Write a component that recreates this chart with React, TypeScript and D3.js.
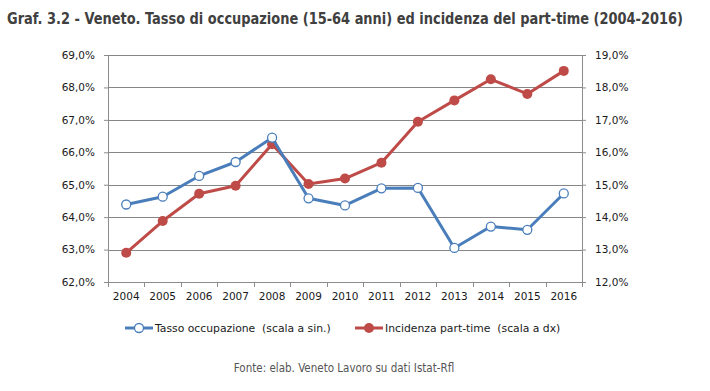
import React, { useRef, useEffect } from 'react';
import * as d3 from 'd3';

const years = ['2004', '2005', '2006', '2007', '2008', '2009', '2010', '2011', '2012', '2013', '2014', '2015', '2016'];
const tassoOccupazione = [64.39, 64.63, 65.27, 65.7, 66.45, 64.58, 64.36, 64.89, 64.9, 63.05, 63.71, 63.61, 64.73];
const incidenzaPartTime = [12.9, 13.88, 14.72, 14.97, 16.25, 15.02, 15.19, 15.68, 16.94, 17.6, 18.25, 17.8, 18.51];
const leftTicks = [62, 63, 64, 65, 66, 67, 68, 69];
const rightTicks = [12, 13, 14, 15, 16, 17, 18, 19];

const BLUE = '#4a7ebb';
const RED = '#be4b48';

const App = () => {
  const svgRef = useRef<SVGSVGElement>(null);

  useEffect(() => {
    const svg = d3.select(svgRef.current);
    svg.selectAll('*').remove();

    const margin = { top: 55, right: 128, bottom: 109, left: 108 };
    const width = 710;
    const height = 391;
    const innerWidth = width - margin.left - margin.right;
    const innerHeight = height - margin.top - margin.bottom;

    const fmt = (v: number) => v.toFixed(1).replace('.', ',') + '%';

    // title
    svg.append('text')
      .attr('x', 7)
      .attr('y', 24)
      .attr('font-family', '"DejaVu Sans Condensed", "DejaVu Sans", sans-serif')
      .attr('font-weight', 'bold')
      .attr('font-size', 15)
      .attr('fill', '#404040')
      .attr('textLength', 676)
      .attr('lengthAdjust', 'spacingAndGlyphs')
      .text('Graf. 3.2 - Veneto. Tasso di occupazione (15-64 anni) ed incidenza del part-time (2004-2016)');

    const x = d3.scaleBand().domain(years).range([0, innerWidth]);
    const yLeft = d3.scaleLinear().domain([62, 69]).range([innerHeight, 0]);
    const yRight = d3.scaleLinear().domain([12, 19]).range([innerHeight, 0]);

    const g = svg.append('g').attr('transform', `translate(${margin.left},${margin.top})`);

    // gridlines
    g.append('g')
      .selectAll('line')
      .data(leftTicks.slice(1))
      .join('line')
      .attr('x1', 0)
      .attr('x2', innerWidth)
      .attr('y1', d => Math.round(yLeft(d)) + 0.5)
      .attr('y2', d => Math.round(yLeft(d)) + 0.5)
      .attr('stroke', '#868686')
      .attr('stroke-width', 1);

    const fontAxis = '"DejaVu Sans", Verdana, sans-serif';

    // left axis
    const left = g.append('g')
      .call(d3.axisLeft(yLeft).tickValues(leftTicks).tickFormat(d => fmt(+d)).tickSize(4).tickPadding(9));
    // bottom axis
    const bottom = g.append('g')
      .attr('transform', `translate(0,${innerHeight})`)
      .call(d3.axisBottom(x).tickSize(0).tickPadding(11));
    bottom.append('g')
      .selectAll('line')
      .data(d3.range(years.length + 1))
      .join('line')
      .attr('x1', i => Math.round(i * x.bandwidth()) + 0.5)
      .attr('x2', i => Math.round(i * x.bandwidth()) + 0.5)
      .attr('y1', 0)
      .attr('y2', 5)
      .attr('stroke', '#8c8c8c');
    // right axis
    const right = g.append('g')
      .attr('transform', `translate(${innerWidth},0)`)
      .call(d3.axisRight(yRight).tickValues(rightTicks).tickFormat(d => fmt(+d)).tickSize(4).tickPadding(9));

    [left, bottom, right].forEach(a => {
      a.selectAll('path').attr('stroke', '#8c8c8c');
      a.selectAll('.tick line').attr('stroke', '#8c8c8c');
      a.selectAll('text')
        .attr('font-family', fontAxis)
        .attr('font-size', 10.5)
        .attr('fill', '#1a1a1a');
    });

    const cx = (i: number) => (x(years[i]) ?? 0) + x.bandwidth() / 2;

    // red series
    const redLine = d3.line<number>().x((_, i) => cx(i)).y(d => yRight(d));
    g.append('path')
      .datum(incidenzaPartTime)
      .attr('d', redLine)
      .attr('fill', 'none')
      .attr('stroke', RED)
      .attr('stroke-width', 3)
      .attr('stroke-linejoin', 'round');
    g.append('g')
      .selectAll('circle')
      .data(incidenzaPartTime)
      .join('circle')
      .attr('cx', (_, i) => cx(i))
      .attr('cy', d => yRight(d))
      .attr('r', 5)
      .attr('fill', RED);

    // blue series
    const blueLine = d3.line<number>().x((_, i) => cx(i)).y(d => yLeft(d));
    g.append('path')
      .datum(tassoOccupazione)
      .attr('d', blueLine)
      .attr('fill', 'none')
      .attr('stroke', BLUE)
      .attr('stroke-width', 3)
      .attr('stroke-linejoin', 'round');
    g.append('g')
      .selectAll('circle')
      .data(tassoOccupazione)
      .join('circle')
      .attr('cx', (_, i) => cx(i))
      .attr('cy', d => yLeft(d))
      .attr('r', 4.5)
      .attr('fill', '#fff')
      .attr('stroke', BLUE)
      .attr('stroke-width', 1.3);

    // legend
    const legend = svg.append('g').attr('transform', 'translate(0,328)');
    const items = [
      { x: 125, label: 'Tasso occupazione  (scala a sin.)', color: BLUE, open: true },
      { x: 355, label: 'Incidenza part-time  (scala a dx)', color: RED, open: false }
    ];
    items.forEach(it => {
      legend.append('line')
        .attr('x1', it.x).attr('x2', it.x + 28)
        .attr('y1', 0).attr('y2', 0)
        .attr('stroke', it.color).attr('stroke-width', 3);
      legend.append('circle')
        .attr('cx', it.x + 14).attr('cy', 0)
        .attr('r', it.open ? 4.5 : 5)
        .attr('fill', it.open ? '#fff' : it.color)
        .attr('stroke', it.open ? it.color : 'none')
        .attr('stroke-width', 1.3);
      legend.append('text')
        .attr('x', it.x + 30)
        .attr('y', 4)
        .attr('font-family', fontAxis)
        .attr('font-size', 10.8)
        .attr('fill', '#1a1a1a')
        .style('white-space', 'pre')
        .text(it.label);
    });

    // source
    svg.append('text')
      .attr('x', 344)
      .attr('y', 372)
      .attr('text-anchor', 'middle')
      .attr('font-family', '"DejaVu Sans Condensed", "DejaVu Sans", sans-serif')
      .attr('font-size', 11.5)
      .attr('fill', '#555')
      .text('Fonte: elab. Veneto Lavoro su dati Istat-Rfl');
  }, []);

  return (
    <svg ref={svgRef} width={710} height={391} style={{ position: 'absolute', left: 0, top: 0, background: '#fff' }} />
  );
};

export default App;
